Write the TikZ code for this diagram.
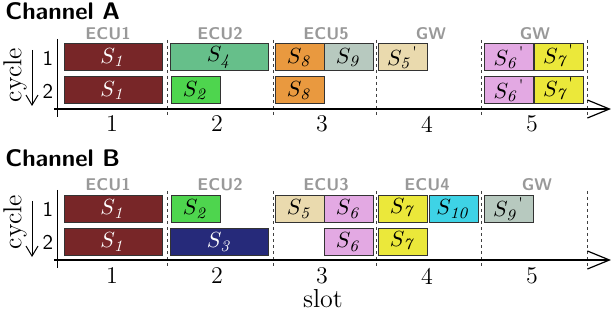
\documentclass[tikz,border=0pt]{standalone}
\usepackage{xcolor}
\usepackage{amsmath,amssymb}
\usepackage{tikz}
\usetikzlibrary{positioning}
\usetikzlibrary{shapes,calc,arrows.meta}

\definecolor{msgred}{HTML}{782628}
\definecolor{msgteal}{HTML}{66BF8A}
\definecolor{msggreen}{HTML}{4ED54E}
\definecolor{msgorange}{HTML}{E9993F}
\definecolor{msggray}{HTML}{B7C9BF}
\definecolor{msgtan}{HTML}{EADAAE}
\definecolor{msgpink}{HTML}{E3A9E3}
\definecolor{msgyellow}{HTML}{EBE83A}
\definecolor{msgnavy}{HTML}{262A7A}
\definecolor{msgcyan}{HTML}{3ED3E6}
\newcommand{\gwp}{{}^{\textnormal{\textquotesingle}}}

\begin{document}
\begin{tikzpicture}[x=0.5pt,y=-0.5pt,
  msg/.style={draw=black!80,line width=0.5pt,inner sep=0pt,minimum height=13.5pt,font=\fontsize{11}{11}\selectfont},
  full/.style={msg,minimum width=49pt},
  half/.style={msg,minimum width=24.5pt},
  ecu/.style={text=black!40,font=\sffamily\bfseries\fontsize{8.5}{9}\selectfont},
  chan/.style={anchor=base west,inner sep=0pt,font=\sffamily\bfseries\fontsize{12}{12}\selectfont},
  slotnum/.style={font=\fontsize{12}{12}\selectfont},
  cyclenum/.style={font=\sffamily\fontsize{10.5}{11}\selectfont},
  axlabel/.style={font=\fontsize{13}{13}\selectfont},
  divider/.style={dash pattern=on 1.5pt off 1.5pt,line width=0.4pt,black!75},
  axis/.style={line width=0.8pt,-{Straight Barb[length=11pt,width=9pt,line width=0.6pt]}},
  down/.style={line width=0.5pt,-{Straight Barb[length=5pt,width=6pt,line width=0.5pt]}}]
\useasboundingbox (0,0) rectangle (611,310);

\node[chan] at (5,20) (chA) {Channel A};
\node[chan] at (5,167) (chB) {Channel B};

\node[ecu] at (108,34) (Aecu1) {ECU1};
\node[ecu] at (220,34) (Aecu2) {ECU2};
\node[ecu] at (326,34) (Aecu3) {ECU5};
\node[ecu] at (431,34) (Aecu4) {GW};
\node[ecu] at (535,34) (Aecu5) {GW};
\node[ecu] at (108,185) (Becu1) {ECU1};
\node[ecu] at (220,185) (Becu2) {ECU2};
\node[ecu] at (326,185) (Becu3) {ECU3};
\node[ecu] at (427,185) (Becu4) {ECU4};
\node[ecu] at (537,185) (Becu5) {GW};

\node[axlabel,rotate=90] at (15,75) (Acyc) {cycle};
\node[axlabel,rotate=90] at (15,222) (Bcyc) {cycle};
\coordinate (Adtop) at (32,50);
\coordinate (Adbot) at (32,106);
\coordinate (Bdtop) at (32,201);
\coordinate (Bdbot) at (32,257);
\draw[down] (Adtop) -- (Adbot);
\draw[down] (Bdtop) -- (Bdbot);
\node[cyclenum] at (48,58) (Ac1) {1};
\node[cyclenum] at (48,91) (Ac2) {2};
\node[cyclenum] at (48,209) (Bc1) {1};
\node[cyclenum] at (48,242) (Bc2) {2};

\coordinate (Avtop) at (57,39);
\coordinate (Avbot) at (57,117);
\coordinate (Ahl) at (54,109);
\coordinate (Ahr) at (611,109);
\coordinate (Bvtop) at (57,190);
\coordinate (Bvbot) at (57,268);
\coordinate (Bhl) at (54,260);
\coordinate (Bhr) at (611,260);
\draw[line width=0.5pt] (Avtop) -- (Avbot);
\draw[line width=0.5pt] (Bvtop) -- (Bvbot);

\draw[divider] (167,40) -- (167,118);
\draw[divider] (273,40) -- (273,118);
\draw[divider] (376,40) -- (376,118);
\draw[divider] (481,40) -- (481,118);
\draw[divider] (587,40) -- (587,118);
\draw[divider] (167,191) -- (167,269);
\draw[divider] (273,191) -- (273,269);
\draw[divider] (376,191) -- (376,269);
\draw[divider] (481,191) -- (481,269);
\draw[divider] (587,191) -- (587,269);

\node[full,fill=msgred,text=white] at (113,57.5) (A11) {$S_{\mathit{1}}$};
\node[full,fill=msgred,text=white] at (113,90.5) (A12) {$S_{\mathit{1}}$};
\node[full,fill=msgteal] at (219.5,57.5) (A21) {$S_{\mathit{4}}$};
\node[half,fill=msggreen] at (195.5,90.5) (A22) {$S_{\mathit{2}}$};
\node[half,fill=msgorange] at (299.5,57.5) (A31) {$S_{\mathit{8}}$};
\node[half,fill=msggray] at (348.5,57.5) (A31b) {$S_{\mathit{9}}$};
\node[half,fill=msgorange] at (299.5,90.5) (A32) {$S_{\mathit{8}}$};
\node[half,fill=msgtan] at (402.5,57.5) (A41) {$S_{\mathit{5}}\gwp$};
\node[half,fill=msgpink] at (509,57.5) (A51) {$S_{\mathit{6}}\gwp$};
\node[half,fill=msgyellow] at (558.5,57.5) (A51b) {$S_{\mathit{7}}\gwp$};
\node[half,fill=msgpink] at (509,90.5) (A52) {$S_{\mathit{6}}\gwp$};
\node[half,fill=msgyellow] at (558.5,90.5) (A52b) {$S_{\mathit{7}}\gwp$};

\node[full,fill=msgred,text=white] at (113,209) (B11) {$S_{\mathit{1}}$};
\node[full,fill=msgred,text=white] at (113,242) (B12) {$S_{\mathit{1}}$};
\node[half,fill=msggreen] at (195.5,209) (B21) {$S_{\mathit{2}}$};
\node[full,fill=msgnavy,text=white] at (219.5,242) (B22) {$S_{\mathit{3}}$};
\node[half,fill=msgtan] at (299.5,209) (B31) {$S_{\mathit{5}}$};
\node[half,fill=msgpink] at (348.5,209) (B31b) {$S_{\mathit{6}}$};
\node[half,fill=msgpink] at (348.5,242) (B32) {$S_{\mathit{6}}$};
\node[half,fill=msgyellow] at (402.5,209) (B41) {$S_{\mathit{7}}$};
\node[half,fill=msgcyan] at (453.5,209) (B41b) {$S_{\mathit{10}}$};
\node[half,fill=msgyellow] at (402.5,242) (B42) {$S_{\mathit{7}}$};
\node[half,fill=msggray] at (508.5,209) (B51) {$S_{\mathit{9}}\gwp$};

\draw[axis] (Ahl) -- (Ahr);
\draw[axis] (Bhl) -- (Bhr);

\node[slotnum] at (112,124) (As1) {1};
\node[slotnum] at (217,124) (As2) {2};
\node[slotnum] at (322,124) (As3) {3};
\node[slotnum] at (427,124) (As4) {4};
\node[slotnum] at (532,124) (As5) {5};
\node[slotnum] at (112,276) (Bs1) {1};
\node[slotnum] at (217,276) (Bs2) {2};
\node[slotnum] at (322,276) (Bs3) {3};
\node[slotnum] at (427,276) (Bs4) {4};
\node[slotnum] at (532,276) (Bs5) {5};
\node[axlabel] at (323,299) (slot) {slot};
\end{tikzpicture}
\end{document}
